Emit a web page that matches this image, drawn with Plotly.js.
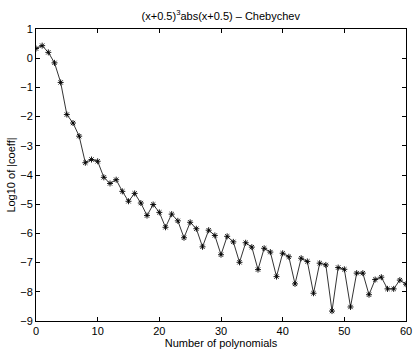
<!DOCTYPE html>
<html>
<head>
<meta charset="utf-8">
<script src="https://cdn.plot.ly/plotly-3.0.1.min.js"></script>
<style>html,body{margin:0;padding:0;background:#fff;}#chart{width:415px;height:351px;}</style>
</head>
<body>
<div id="chart"></div>
<script>
const polyCount = [0,1,2,3,4,5,6,7,8,9,10,11,12,13,14,15,16,17,18,19,20,21,22,23,24,25,26,27,28,29,30,31,32,33,34,35,36,37,38,39,40,41,42,43,44,45,46,47,48,49,50,51,52,53,54,55,56,57,58,59,60];
const logCoeff = [0.33,0.43,0.2,-0.16,-0.83,-1.93,-2.22,-2.67,-3.58,-3.47,-3.53,-4.08,-4.29,-4.16,-4.56,-4.90,-4.63,-4.96,-5.39,-5.01,-5.28,-5.79,-5.34,-5.57,-6.15,-5.62,-5.84,-6.46,-5.89,-6.07,-6.73,-6.10,-6.29,-6.99,-6.32,-6.47,-7.24,-6.51,-6.64,-7.48,-6.68,-6.80,-7.73,-6.85,-6.96,-8.05,-7.02,-7.08,-8.66,-7.17,-7.23,-8.52,-7.36,-7.36,-8.10,-7.58,-7.50,-7.90,-7.90,-7.60,-7.74];
const xTicks = [0,10,20,30,40,50,60];
const yTicks = [1,0,-1,-2,-3,-4,-5,-6,-7,-8,-9];
const titleText = '(x+0.5)<sup>3</sup>abs(x+0.5) \u2013 Chebychev';
const xLabel = 'Number of polynomials';
const yLabel = 'Log10 of |coeff|';

const font = {family: 'Liberation Sans, Arial, sans-serif', size: 11, color: '#000'};
const trace = {
  x: polyCount, y: logCoeff, type: 'scatter', mode: 'lines+markers',
  line: {color: '#000', width: 0.8},
  marker: {symbol: 'asterisk-open', size: 5, color: '#000', line: {color: '#000', width: 0.9}},
  hoverinfo: 'none'
};
const axisCommon = {
  showgrid: false, zeroline: false, showline: true, linecolor: '#000', linewidth: 1,
  mirror: 'ticks', ticks: 'inside', ticklen: 4, tickcolor: '#000', tickwidth: 1,
  tickfont: font
};
const layout = {
  width: 415, height: 351,
  margin: {l: 35.5, r: 9.3, t: 29, b: 30},
  paper_bgcolor: '#fff', plot_bgcolor: '#fff',
  showlegend: false,
  font: font,
  title: {text: titleText, font: font, x: 0.532, xanchor: 'center', y: 0.955, yanchor: 'middle'},
  xaxis: Object.assign({}, axisCommon, {range: [0, 60], tickvals: xTicks, ticktext: xTicks.map(String),
    title: {text: xLabel, font: font, standoff: 0}}),
  yaxis: Object.assign({}, axisCommon, {range: [-9, 1], tickvals: yTicks, ticktext: yTicks.map(v => v < 0 ? '\u2212' + Math.abs(v) : String(v)),
    title: {text: yLabel, font: font, standoff: 2}})
};
Plotly.newPlot('chart', [trace], layout, {displayModeBar: false, staticPlot: true});
</script>
</body>
</html>
